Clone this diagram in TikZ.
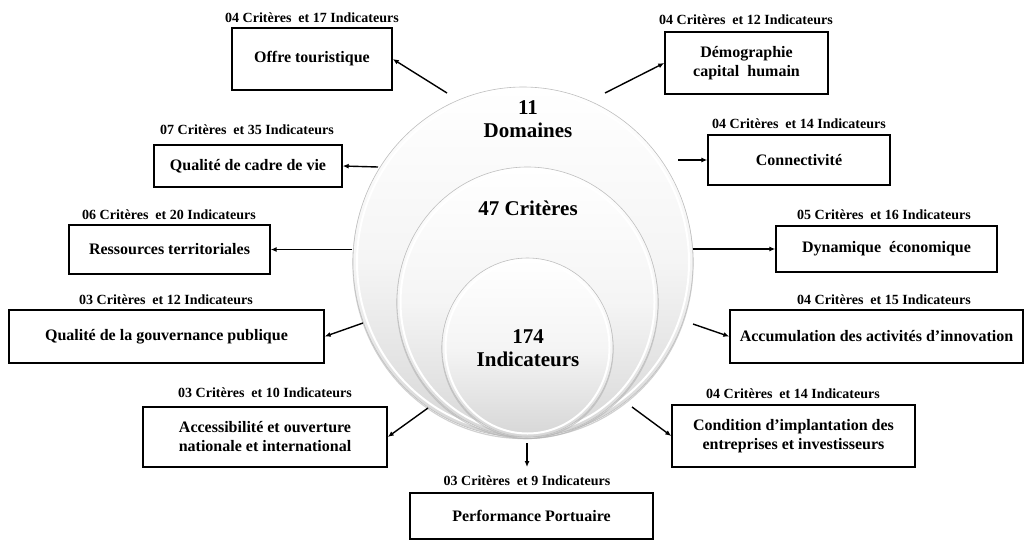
\documentclass[tikz,border=0pt]{standalone}
\usepackage{fontspec}
\setmainfont{Liberation Serif}
\usetikzlibrary{arrows.meta,shapes.geometric,calc}
\begin{document}
\begin{tikzpicture}[x=1pt,y=-1pt,
  box/.style={draw=black, line width=1.4pt, fill=white, inner sep=0pt, align=center,
    font=\fontsize{16}{19}\selectfont\bfseries},
  lab/.style={inner sep=0pt, font=\fontsize{14}{16}\selectfont\bfseries},
  conn/.style={line width=1.4pt, -{Latex[length=6pt,width=5pt]}},
  disc/.style={ellipse, draw=gray!50, line width=0.6pt, shading=axis, top color=white,
    bottom color=gray!32, middle color=gray!8, inner sep=0pt},
  shade/.style={gray!60, line width=1.2pt, opacity=0.6},
  rim/.style={white, line width=2pt},
  big/.style={font=\fontsize{21}{23}\selectfont\bfseries, align=center, inner sep=0pt}]

\useasboundingbox (0,0) rectangle (1025,541);

% discs
\draw[shade] (523,263.5) ellipse [x radius=170pt, y radius=175pt];
\node[disc, minimum width=340pt, minimum height=350pt] (d1) at (523,262) {};
\draw[rim] (d1.center) ellipse [x radius=166pt, y radius=171pt];
\draw[shade] (527.5,303.5) ellipse [x radius=130.5pt, y radius=135pt];
\node[disc, minimum width=261pt, minimum height=270pt] (d2) at (527.5,302) {};
\draw[rim] (d2.center) ellipse [x radius=127pt, y radius=131pt];
\draw[shade] (527.5,349) ellipse [x radius=85.5pt, y radius=89.5pt];
\node[disc, minimum width=171pt, minimum height=179pt] (d3) at (527.5,347.5) {};
\draw[rim] (d3.center) ellipse [x radius=82pt, y radius=86pt];

\node[big] (t1) at (528,119) {11\\Domaines};
\node[big] (t2) at (528,208) {47 Critères};
\node[big] (t3) at (528,348) {174\\Indicateurs};

% boxes
\node[box, minimum width=160pt, minimum height=62pt] (b1) at (312,59) {Offre touristique};
\node[lab] (l1) at (312,18) {04 Critères \ et 17 Indicateurs};

\node[box, minimum width=188pt, minimum height=42pt] (b2) at (248,166) {Qualité de cadre de vie};
\node[lab] (l2) at (247,130) {07 Critères \ et 35 Indicateurs};

\node[box, minimum width=201pt, minimum height=49pt] (b3) at (169.5,249.5) {Ressources territoriales};
\node[lab] (l3) at (169,215) {06 Critères \ et 20 Indicateurs};

\node[box, minimum width=315pt, minimum height=53pt] (b4) at (166.5,336.5) {Qualité de la gouvernance publique};
\node[lab] (l4) at (166,300) {03 Critères \ et 12 Indicateurs};

\node[box, minimum width=244pt, minimum height=60pt] (b5) at (265,437) {Accessibilité et ouverture\\nationale et international};
\node[lab] (l5) at (265,393) {03 Critères \ et 10 Indicateurs};

\node[box, minimum width=243pt, minimum height=46pt] (b6) at (531.5,516) {Performance Portuaire};
\node[lab] (l6) at (527,481) {03 Critères \ et 9 Indicateurs};

\node[box, minimum width=243pt, minimum height=62pt] (b7) at (793.5,436) {Condition d’implantation des\\entreprises et investisseurs};
\node[lab] (l7) at (793,394) {04 Critères \ et 14 Indicateurs};

\node[box, minimum width=293pt, minimum height=53pt] (b8) at (876.5,336.5) {Accumulation des activités d’innovation};
\node[lab] (l8) at (884,300) {04 Critères \ et 15 Indicateurs};

\node[box, minimum width=221pt, minimum height=46pt] (b9) at (886.5,249) {Dynamique \ économique};
\node[lab] (l9) at (884,215) {05 Critères \ et 16 Indicateurs};

\node[box, minimum width=182pt, minimum height=50pt] (b10) at (799,160) {Connectivité};
\node[lab] (l10) at (799,124) {04 Critères \ et 14 Indicateurs};

\node[box, minimum width=163pt, minimum height=62pt] (b11) at (746.5,63) {Démographie\\capital \ humain};
\node[lab] (l11) at (746,20) {04 Critères \ et 12 Indicateurs};

% connectors
\coordinate (s1) at (447,93);
\coordinate (s2) at (605,93);
\coordinate (s3) at (378,167);
\coordinate (s4) at (678,160);
\coordinate (s5) at (352,249.5);
\coordinate (s6) at (693,249);
\coordinate (s7) at (363,323);
\coordinate (s8) at (693,324);
\coordinate (s9) at (428,408);
\coordinate (s10) at (632,407);
\coordinate (s11) at (527,443);
\coordinate (e11) at (527,467);

\draw[conn] (s1) -- (b1.east);
\draw[conn] (s2) -- (b11.west);
\draw[conn] (s3) -- (b2.east);
\draw[conn] (s4) -- (b10.west);
\draw[conn] (s5) -- (b3.east);
\draw[conn] (s6) -- (b9.west);
\draw[conn] (s7) -- (b4.east);
\draw[conn] (s8) -- (b8.west);
\draw[conn] (s9) -- (b5.east);
\draw[conn] (s10) -- (b7.west);
\draw[conn] (s11) -- (e11);
\end{tikzpicture}
\end{document}
